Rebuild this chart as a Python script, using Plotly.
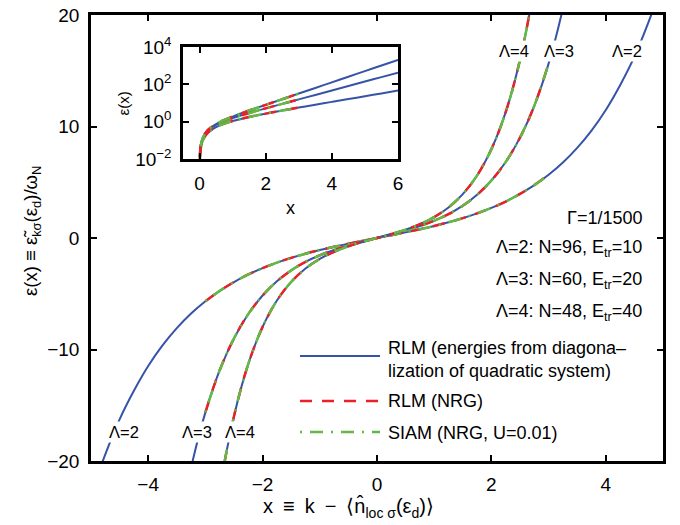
import plotly.graph_objects as go

# ---------------- data ----------------
# main panel: x >= 0 half (curves are antisymmetric: eps(-x) = -eps(x))
x_half = [0, 0.25, 0.5, 0.75, 1, 1.25, 1.5, 1.75, 2, 2.25, 2.5, 2.75, 3,
          3.25, 3.5, 3.75, 4, 4.25, 4.5, 4.75, 5]
eps_L2 = [0, 0.25, 0.51, 0.78, 1.08, 1.41, 1.78, 2.21, 2.70, 3.27, 3.95, 4.74,
          5.67, 6.77, 8.08, 9.63, 11.48, 13.7, 16.26, 19.4, 23.0]
eps_L3 = [0, 0.32, 0.67, 1.07, 1.55, 2.14, 2.90, 3.88, 5.16, 6.82, 9.00, 11.86,
          15.64, 20.6, 27.1]
eps_L4 = [0, 0.354, 0.75, 1.24, 1.875, 2.74, 3.94, 5.61, 7.97, 11.29, 15.98,
          22.61, 32.0, 45.2]
nrg_xmax = 3.0

# inset (log scale)
x_in = [0.01, 0.02, 0.05, 0.1, 0.2, 0.3, 0.5, 0.75, 1, 1.5, 2, 2.5, 3, 3.5, 4,
        4.5, 5, 5.5, 6]
in_L2 = [0.0100, 0.0200, 0.0500, 0.0999, 0.200, 0.302, 0.51, 0.78, 1.08, 1.78,
         2.70, 3.95, 5.67, 8.08, 11.48, 16.26, 23.0, 32.6, 46.1]
in_L3 = [0.0127, 0.0255, 0.0637, 0.128, 0.257, 0.389, 0.67, 1.07, 1.55, 2.90,
         5.16, 9.00, 15.64, 27.1, 47.0, 81.4, 141, 244, 423]
in_L4 = [0.0139, 0.0277, 0.0694, 0.139, 0.281, 0.428, 0.75, 1.24, 1.875, 3.94,
         7.97, 15.98, 32.0, 64.0, 128, 256, 512, 1024, 2048]

lam_labels = ["Λ=2", "Λ=3", "Λ=4"]
legend_names = ["RLM (energies from diagona–<br>lization of quadratic system)",
                "RLM (NRG)", "SIAM (NRG, U=0.01)"]
info_texts = ["Γ=1/1500", "Λ=2: N=96, E<sub>tr</sub>=10",
              "Λ=3: N=60, E<sub>tr</sub>=20", "Λ=4: N=48, E<sub>tr</sub>=40"]
inset_yticks = [0.01, 1, 100, 10000]
inset_yticktext = ["10<sup>−2</sup>", "10<sup>0</sup>", "10<sup>2</sup>", "10<sup>4</sup>"]

BLUE = "#3653a8"
RED = "#ec2029"
GREEN = "#62b946"
RED_DASH = "12px,10px"
GREEN_DASH = "2px,8px,13px,8px"
FONT = "Liberation Sans, Arial, sans-serif"

# page has an 8px body margin: the figure is shifted by (8, 8)
OFF = 8
W, H = 680 - OFF, 525 - OFF
L, R, T, B = 91 - OFF, 17, 15 - OFF, 64
pw, ph = W - L - R, H - T - B


def px2paper(px, py):
    # px, py are page pixel coordinates
    return (px - OFF - L) / pw, (H - B - (py - OFF)) / ph


def full_curve(xs, ys):
    n = len(ys)
    xs = xs[:n]
    fx = [-v for v in reversed(xs[1:])] + list(xs)
    fy = [-v for v in reversed(ys[1:])] + list(ys)
    return fx, fy


fig = go.Figure()

for ys in (eps_L2, eps_L3, eps_L4):
    fx, fy = full_curve(x_half, ys)
    fig.add_trace(go.Scatter(x=fx, y=fy, mode="lines", line=dict(color=BLUE, width=2, shape="spline"),
                             showlegend=False, hoverinfo="skip"))
    nx = [a for a in fx if abs(a) <= nrg_xmax + 1e-9]
    ny = [b for a, b in zip(fx, fy) if abs(a) <= nrg_xmax + 1e-9]
    fig.add_trace(go.Scatter(x=nx, y=ny, mode="lines",
                             line=dict(color=RED, width=2.5, dash=RED_DASH, shape="spline"),
                             showlegend=False, hoverinfo="skip"))
    fig.add_trace(go.Scatter(x=nx, y=ny, mode="lines",
                             line=dict(color=GREEN, width=2.5, dash=GREEN_DASH, shape="spline"),
                             showlegend=False, hoverinfo="skip"))

for ys in (in_L2, in_L3, in_L4):
    fig.add_trace(go.Scatter(x=x_in, y=ys, xaxis="x2", yaxis="y2", mode="lines",
                             line=dict(color=BLUE, width=2, shape="spline"),
                             showlegend=False, hoverinfo="skip"))
    nx = [a for a in x_in if a <= nrg_xmax + 1e-9]
    ny = [b for a, b in zip(x_in, ys) if a <= nrg_xmax + 1e-9]
    fig.add_trace(go.Scatter(x=nx, y=ny, xaxis="x2", yaxis="y2", mode="lines",
                             line=dict(color=RED, width=2.5, dash=RED_DASH, shape="spline"),
                             showlegend=False, hoverinfo="skip"))
    fig.add_trace(go.Scatter(x=nx, y=ny, xaxis="x2", yaxis="y2", mode="lines",
                             line=dict(color=GREEN, width=2.5, dash=GREEN_DASH, shape="spline"),
                             showlegend=False, hoverinfo="skip"))

ax_common = dict(showgrid=False, zeroline=False, showline=True, linecolor="black",
                 linewidth=2.5, mirror="ticks", ticks="inside", ticklen=6,
                 tickwidth=1.8, tickcolor="black", automargin=False,
                 ticklabeloverflow="allow",
                 tickfont=dict(family=FONT, size=19, color="black"))

ix0, iy1 = px2paper(183, 159)
ix1, iy0 = px2paper(398, 47)

fig.update_layout(
    width=W, height=H, margin=dict(l=L, r=R, t=T, b=B),
    paper_bgcolor="white", plot_bgcolor="white", showlegend=False,
    font=dict(family=FONT, color="black"),
    xaxis=dict(range=[-5, 5], tickvals=[-4, -2, 0, 2, 4], ticklabelstandoff=4, **ax_common),
    yaxis=dict(range=[-20, 20], tickvals=[-20, -10, 0, 10, 20], ticklabelstandoff=5, **ax_common),
    xaxis2=dict(domain=[ix0, ix1], anchor="y2", range=[-0.5, 6], tickvals=[0, 2, 4, 6],
                ticklabelstandoff=5, **ax_common),
    yaxis2=dict(domain=[iy1, iy0], anchor="x2", type="log", range=[-2, 4],
                tickvals=inset_yticks, ticktext=inset_yticktext, ticklabelstandoff=5, **ax_common),
)

ann = []
# Lambda labels (white box hides the curve)
top_pos = [(4.37, 16.8), (3.18, 16.8), (2.40, 16.8)]
bot_pos = [(-4.43, -17.4), (-3.15, -17.4), (-2.40, -17.4)]
for lab, (x, y) in zip(lam_labels, top_pos):
    ann.append(dict(x=x, y=y, xref="x", yref="y", text=lab, showarrow=False, bgcolor="white",
                    font=dict(family=FONT, size=16.5), borderpad=1))
for lab, (x, y) in zip(lam_labels, bot_pos):
    ann.append(dict(x=x, y=y, xref="x", yref="y", text=lab, showarrow=False, bgcolor="white",
                    font=dict(family=FONT, size=16.5), borderpad=1))

# parameter texts
info_y = [218, 248, 280, 312]
for t, py in zip(info_texts, info_y):
    xp, yp = px2paper(644, py)
    ann.append(dict(x=xp, y=yp, xref="paper", yref="paper", text=t, showarrow=False,
                    xanchor="right", yanchor="middle", font=dict(family=FONT, size=18)))

# manual legend
leg_y = [356, 401, 432]
leg_text_y = [357, 401, 433]
styles = [dict(color=BLUE, width=2), dict(color=RED, width=2.5, dash=RED_DASH),
          dict(color=GREEN, width=2.5, dash=GREEN_DASH)]
shapes = []
for ly, st in zip(leg_y, styles):
    x0p, yp = px2paper(300, ly)
    x1p, _ = px2paper(380, ly)
    shapes.append(dict(type="line", xref="paper", yref="paper", x0=x0p, x1=x1p, y0=yp, y1=yp,
                       line=st))
for name, ty in zip(legend_names, leg_text_y):
    xp, yp = px2paper(386, ty)
    yanchor = "middle"
    if "<br>" in name:
        xp, yp = px2paper(386, 336)
        yanchor = "top"
    ann.append(dict(x=xp, y=yp, xref="paper", yref="paper", text=name, showarrow=False,
                    xanchor="left", yanchor=yanchor, align="left",
                    font=dict(family=FONT, size=18)))

# axis titles
xp, yp = px2paper(348, 508)
ann.append(dict(x=xp, y=yp, xref="paper", yref="paper",
                text="x\u2002≡\u2002k\u2002−\u2002⟨n̂<sub>loc σ</sub>(ε<sub>d</sub>)⟩", showarrow=False,
                xanchor="center", yanchor="middle", font=dict(family=FONT, size=20)))
xp, yp = px2paper(32, 231)
ann.append(dict(x=xp, y=yp, xref="paper", yref="paper",
                text="ε(x) ≡ ε̃<sub>kσ</sub>(ε<sub>d</sub>)/ω<sub>N</sub>", showarrow=False,
                textangle=-90, xanchor="center", yanchor="middle", font=dict(family=FONT, size=18.5)))
# inset titles
xp, yp = px2paper(290, 208)
ann.append(dict(x=xp, y=yp, xref="paper", yref="paper", text="x", showarrow=False,
                font=dict(family=FONT, size=18)))
xp, yp = px2paper(112, 90)
ann.append(dict(x=xp, y=yp, xref="paper", yref="paper", text="ε(x)", showarrow=False,
                textangle=-90, font=dict(family=FONT, size=15)))

fig.update_layout(annotations=ann, shapes=shapes)
fig.write_html("out.html")
